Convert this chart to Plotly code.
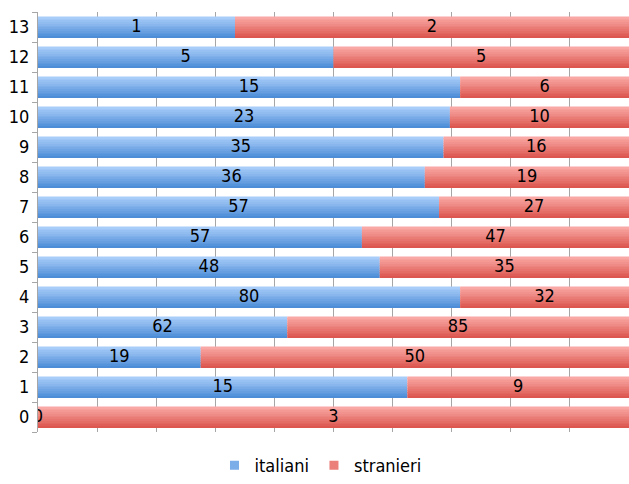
import plotly.graph_objects as go

# Age classes (bottom to top) and head counts per group
classi = ["0", "1", "2", "3", "4", "5", "6", "7", "8", "9", "10", "11", "12", "13"]
italiani = [0, 15, 19, 62, 80, 48, 57, 57, 36, 35, 23, 15, 5, 1]
stranieri = [3, 9, 50, 85, 32, 35, 47, 27, 19, 16, 10, 6, 5, 2]

FONT = "DejaVu Sans Condensed, Liberation Sans Narrow, Arial Narrow, sans-serif"

totali = [a + b for a, b in zip(italiani, stranieri)]
quota_it = [a / t for a, t in zip(italiani, totali)]
quota_st = [b / t for b, t in zip(stranieri, totali)]

# vertical gradient endpoints (bottom colour, top colour)
gradienti = {
    "italiani": ((0x4d, 0x8d, 0xd7), (0xa9, 0xcd, 0xf9)),
    "stranieri": ((0xdc, 0x57, 0x4f), (0xfa, 0xa8, 0xa5)),
}

BAR_W = 0.7
STRIPS = 12

fig = go.Figure()


def add_gradient_bars(name, lengths, bases):
    lo, hi = gradienti[name]
    sw = BAR_W / STRIPS
    for i in range(STRIPS):
        t = i / (STRIPS - 1)
        col = "rgb({},{},{})".format(*[round(lo[k] + (hi[k] - lo[k]) * t) for k in range(3)])
        fig.add_trace(go.Bar(
            y=classi, x=lengths, base=bases, orientation="h",
            offset=-BAR_W / 2 + i * sw, width=sw * 1.08 if i < STRIPS - 1 else sw,
            marker=dict(color=col, line=dict(width=0)),
            name=name, legendgroup=name, showlegend=False, hoverinfo="skip",
        ))
    # legend entry
    fig.add_trace(go.Scatter(
        y=[None], x=[None], mode="markers", name=name, legendgroup=name,
        marker=dict(symbol="square", size=9,
                    color="rgb({},{},{})".format(*[(lo[k] + hi[k]) // 2 for k in range(3)])),
    ))


add_gradient_bars("italiani", quota_it, [0] * len(classi))
add_gradient_bars("stranieri", quota_st, quota_it)

# value labels centred on each segment
fig.add_trace(go.Scatter(
    y=classi, x=[q / 2 for q in quota_it], mode="text",
    text=[str(v) for v in italiani], textposition="middle center",
    textfont=dict(family=FONT, size=18, color="#000000"),
    showlegend=False, hoverinfo="skip",
))
fig.add_trace(go.Scatter(
    y=classi, x=[a + b / 2 for a, b in zip(quota_it, quota_st)], mode="text",
    text=[str(v) for v in stranieri], textposition="middle center",
    textfont=dict(family=FONT, size=18, color="#000000"),
    showlegend=False, hoverinfo="skip",
))

fig.update_layout(
    width=629, height=484,
    margin=dict(l=38, r=0, t=12, b=51),
    barmode="overlay",
    plot_bgcolor="white", paper_bgcolor="white",
    font=dict(family=FONT, size=18, color="#000000"),
    showlegend=True,
    legend=dict(orientation="h", x=0.478, xanchor="center", y=-0.035, yanchor="top",
                font=dict(family=FONT, size=18), itemwidth=30, traceorder="normal",
                tracegroupgap=0),
    xaxis=dict(range=[0, 1], dtick=0.1, showgrid=True, gridcolor="#a6a6a6", gridwidth=1,
               showticklabels=False, zeroline=False, showline=False, fixedrange=True),
    yaxis=dict(type="category", categoryorder="array", categoryarray=classi,
               range=[-0.5, len(classi) - 0.5],
               showline=True, linecolor="#a6a6a6", linewidth=1,
               ticks="outside", tickson="boundaries", ticklen=5, tickcolor="#a6a6a6",
               showgrid=False, ticklabelstandoff=4,
               tickfont=dict(family=FONT, size=18)),
)

fig.write_html("out.html")
